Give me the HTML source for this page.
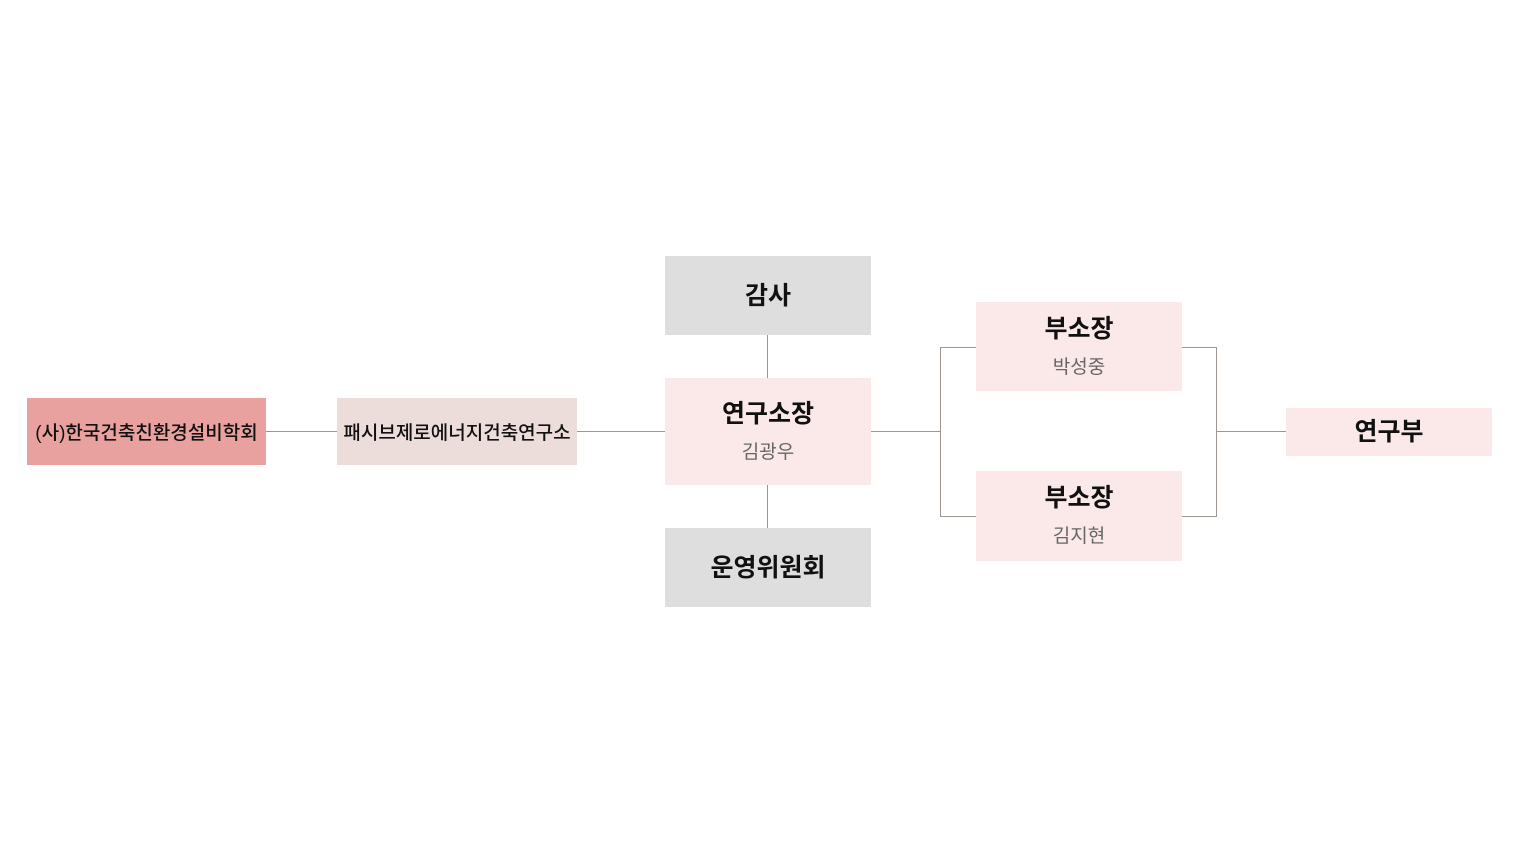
<!DOCTYPE html>
<html><head><meta charset="utf-8"><style>
body{margin:0;width:1536px;height:864px;background:#fff;position:relative;overflow:hidden;font-family:"Liberation Sans","Noto Sans CJK KR",sans-serif;}
.b{position:absolute;display:flex;flex-direction:column;align-items:center;justify-content:center;color:#111;}
.t{font-size:25px;font-weight:bold;line-height:30px}
.s{font-size:19px;color:#666;margin-top:12px;line-height:24px}
.l{position:absolute;background:#9e9690;}
</style></head><body>
<div class="l" style="left:266px;top:431px;width:71px;height:1px"></div>
<div class="l" style="left:577px;top:431px;width:88px;height:1px"></div>
<div class="l" style="left:871px;top:431px;width:69px;height:1px"></div>
<div class="l" style="left:940px;top:347px;width:1px;height:170px"></div>
<div class="l" style="left:940px;top:347px;width:36px;height:1px"></div>
<div class="l" style="left:940px;top:516px;width:36px;height:1px"></div>
<div class="l" style="left:1216px;top:347px;width:1px;height:170px"></div>
<div class="l" style="left:1182px;top:347px;width:34px;height:1px"></div>
<div class="l" style="left:1182px;top:516px;width:34px;height:1px"></div>
<div class="l" style="left:1216px;top:431px;width:70px;height:1px"></div>
<div class="l" style="left:767px;top:335px;width:1px;height:43px"></div>
<div class="l" style="left:767px;top:485px;width:1px;height:43px"></div>

<div class="b" style="left:27px;top:398px;width:239px;height:67px;background:#e8a19e"><div style="font-size:19px;font-weight:500">(사)한국건축친환경설비학회</div></div>
<div class="b" style="left:337px;top:398px;width:240px;height:67px;background:#ecdcda"><div style="font-size:19px;font-weight:500">패시브제로에너지건축연구소</div></div>
<div class="b" style="left:665px;top:256px;width:206px;height:79px;background:#dedede"><div class="t">감사</div></div>
<div class="b" style="left:665px;top:378px;width:206px;height:107px;background:#fbe9e9"><div class="t">연구소장</div><div class="s">김광우</div></div>
<div class="b" style="left:665px;top:528px;width:206px;height:79px;background:#dedede"><div class="t">운영위원회</div></div>
<div class="b" style="left:976px;top:302px;width:206px;height:89px;background:#fbe9e9"><div class="t">부소장</div><div class="s">박성중</div></div>
<div class="b" style="left:976px;top:471px;width:206px;height:90px;background:#fbe9e9"><div class="t">부소장</div><div class="s">김지현</div></div>
<div class="b" style="left:1286px;top:408px;width:206px;height:48px;background:#fbe9e9"><div class="t">연구부</div></div>
</body></html>
